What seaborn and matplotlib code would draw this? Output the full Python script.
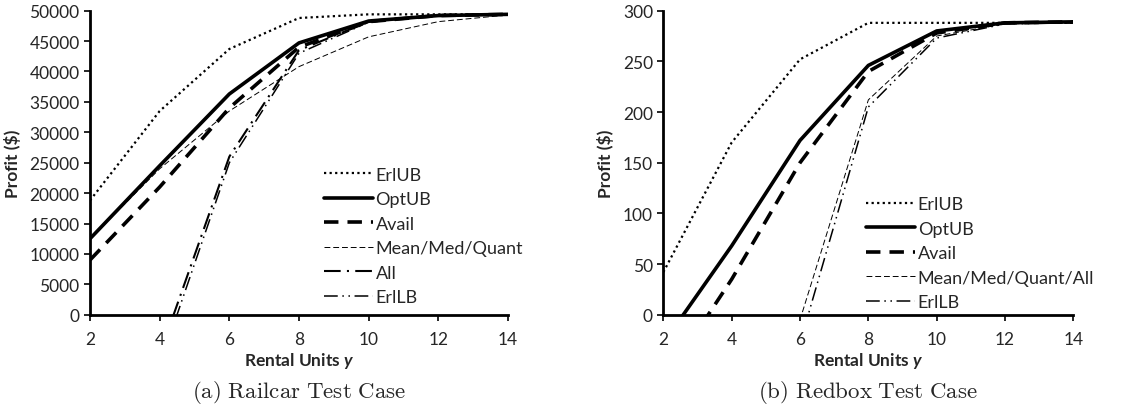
import numpy as np
import pandas as pd
import matplotlib
matplotlib.use("Agg")
import matplotlib.pyplot as plt
import seaborn as sns

# rental units y
units = [2, 4, 6, 8, 10, 12, 14]

# (a) Railcar profits
rail_erlub = [18800, 33500, 43700, 48800, 49400, 49400, 49400]
rail_optub = [12500, 24500, 36300, 44700, 48300, 49200, 49400]
rail_avail = [9000, 21000, 34000, 44000, 48200, 49200, 49400]
rail_mean = [12500, 24000, 33500, 40800, 45700, 48200, 49300]
rail_all = [-40000, -6500, 26000, 43500, 48200, 49200, 49400]
rail_erllb = [-45000, -8300, 25000, 43000, 48100, 49200, 49400]

# (b) Redbox profits
red_erlub = [42, 170, 252, 288, 288, 288, 288]
red_optub = [-28, 68, 172, 246, 280, 288, 289]
red_avail = [-67, 35, 150, 240, 278, 288, 289]
red_mean = [-200, -100, -5, 212, 275, 287, 288]
red_erllb = [-220, -120, -28, 205, 273, 287, 288]

sns.set_style("ticks")
plt.rcParams["font.family"] = ["Lato", "DejaVu Sans"]
plt.rcParams["mathtext.bfit"] = "Lato:italic:bold"

styles = {
    "ErlUB": dict(lw=1.6, ls=(0, (1, 1.5))),
    "OptUB": dict(lw=2.6, ls="-"),
    "Avail": dict(lw=2.6, ls=(0, (4, 2.5))),
    "Mean": dict(lw=0.7, ls=(0, (6, 3))),
    "All": dict(lw=1.5, ls=(0, (8, 3, 1, 3))),
    "ErlLB": dict(lw=1.1, ls=(0, (9, 3, 1, 3, 1, 3))),
}


def draw(ax, series, ymax, ystep, ylab_x):
    for label, key, vals in series:
        df = pd.DataFrame({"y": units, "profit": vals})
        sns.lineplot(data=df, x="y", y="profit", ax=ax, color="black",
                     label=label, **styles[key])
    ax.set_xlim(2, 14)
    ax.set_ylim(0, ymax)
    ax.set_xticks(range(2, 15, 2))
    ax.set_yticks(np.arange(0, ymax + 1, ystep))
    ax.tick_params(labelsize=12.5, length=4, width=1.2, color="black")
    ax.tick_params(axis="x", pad=8)
    for s in ["left", "bottom"]:
        ax.spines[s].set_linewidth(2)
        ax.spines[s].set_color("black")
    sns.despine(ax=ax)
    ax.set_ylabel("Profit ($)", fontsize=12.5, fontweight="bold")
    ax.yaxis.set_label_coords(ylab_x, 0.5)
    ax.set_xlabel(r"Rental Units $\mathbfit{y}$", fontsize=12.5, fontweight="bold",
                  math_fontfamily="custom", labelpad=2)


fig = plt.figure(figsize=(11.41, 4.06), dpi=100)
ax1 = fig.add_axes([0.0789, 0.2224, 0.3663, 0.7488])
ax2 = fig.add_axes([0.5814, 0.2224, 0.3593, 0.7488])

draw(ax1, [("ErlUB", "ErlUB", rail_erlub), ("OptUB", "OptUB", rail_optub),
           ("Avail", "Avail", rail_avail), ("Mean/Med/Quant", "Mean", rail_mean),
           ("All", "All", rail_all), ("ErlLB", "ErlLB", rail_erllb)],
     50000, 5000, -0.165)
draw(ax2, [("ErlUB", "ErlUB", red_erlub), ("OptUB", "OptUB", red_optub),
           ("Avail", "Avail", red_avail), ("Mean/Med/Quant/All", "Mean", red_mean),
           ("ErlLB", "ErlLB", red_erllb)], 300, 50, -0.12)

for ax, anchor in [(ax1, (0.56, 0.487)), (ax2, (0.495, 0.39))]:
    ax.legend(loc="upper left", bbox_to_anchor=anchor, frameon=False,
              fontsize=13, handlelength=2.7, handletextpad=0.15,
              labelspacing=0.47, borderpad=0, borderaxespad=0)

fig.text(0.2621, 0.02, r"$\mathrm{(a)\ Railcar\ Test\ Case}$", ha="center",
         fontsize=16.5, math_fontfamily="cm")
fig.text(0.761, 0.02, r"$\mathrm{(b)\ Redbox\ Test\ Case}$", ha="center",
         fontsize=16.5, math_fontfamily="cm")

fig.savefig("out.png", dpi=100)
